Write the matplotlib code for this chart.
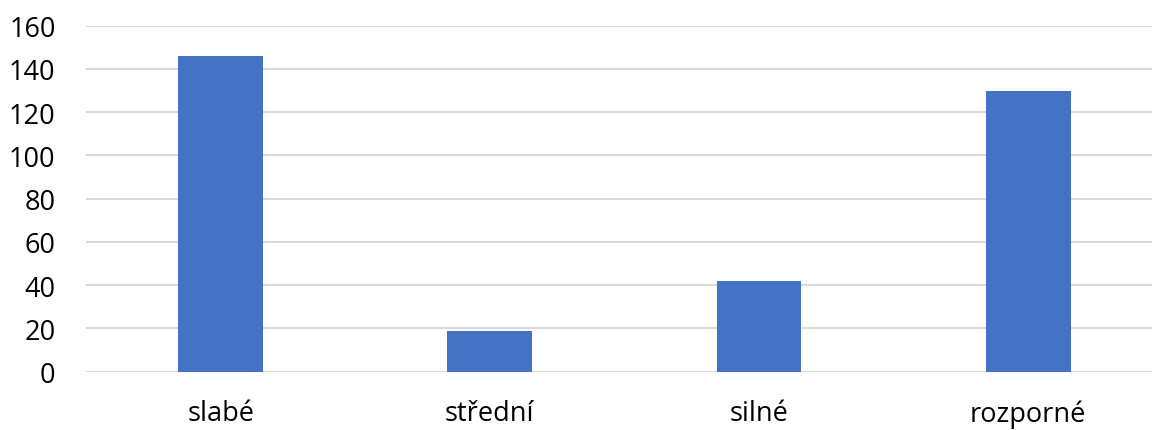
import matplotlib
matplotlib.use('Agg')
import matplotlib.pyplot as plt

plt.rcParams.update({
    'font.family': ['Open Sans', 'DejaVu Sans'],
    'font.size': 19.5,
})

categories = ['slabé', 'střední', 'silné', 'rozporné']
values = [146, 19, 42, 130]
yticks = [0, 20, 40, 60, 80, 100, 120, 140, 160]

bar_color = '#4472C4'
grid_color = '#D9D9D9'

fig = plt.figure(figsize=(11.52, 4.31), dpi=100)
ax = fig.add_axes([0.0747, 0.1353, 0.9253, 0.8027])

x = list(range(len(categories)))
ax.bar(x, values, width=0.315, color=bar_color, zorder=3)

ax.set_ylim(0, 160)
ax.set_xlim(-0.5, 3.46)
ax.set_yticks(yticks)
ax.set_xticks(x)
ax.set_xticklabels(categories)

ax.yaxis.grid(True, color=grid_color, linewidth=1.5, zorder=0)
ax.set_axisbelow(True)
for s in ['top', 'right', 'left', 'bottom']:
    ax.spines[s].set_visible(False)
ax.tick_params(axis='both', length=0, colors='#000000')
ax.tick_params(axis='y', pad=22)
ax.tick_params(axis='x', pad=20)

fig.savefig('out.png', dpi=100)
